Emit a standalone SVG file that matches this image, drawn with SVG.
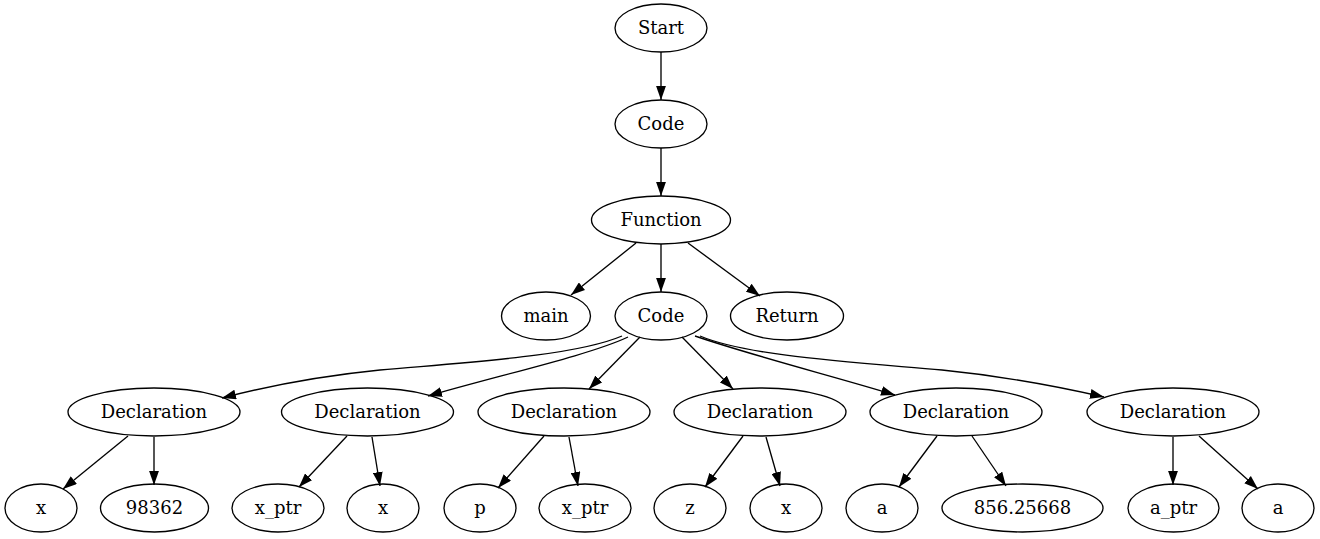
<svg xmlns="http://www.w3.org/2000/svg" width="1320" height="539" viewBox="0 0 1320 539">
<style>
.n ellipse{fill:none;stroke:#000;stroke-width:1.33}
.n text{font-family:"DejaVu Serif","Liberation Serif",serif;font-size:18px;text-anchor:middle;fill:#000}
.e path{fill:none;stroke:#000;stroke-width:1.33;marker-end:url(#ah)}
</style>
<defs>
<marker id="ah" markerUnits="userSpaceOnUse" markerWidth="14" markerHeight="10" refX="13.3" refY="4.67" orient="auto" viewBox="0 0 13.3 9.34">
<path d="M0,0 L13.3,4.67 L0,9.34 Z" fill="#000" stroke="none"/>
</marker>
</defs>
<rect width="1320" height="539" fill="#fff"/>
<g id="connectors" class="e">
<path d="M661,52 L661,100"/>
<path d="M661,148 L661,196"/>
<path d="M636,243 L571,295"/>
<path d="M661,244 L661,292"/>
<path d="M688,243 L760,296"/>
<path d="M622,336 C575,356 470,362 380,370 C320,376 268,386 222,398"/>
<path d="M628,337 C590,355 500,375 428,396"/>
<path d="M640,337 L589,389"/>
<path d="M682,337 L733,389"/>
<path d="M695,336 C750,355 840,378 895,395"/>
<path d="M700,336 C747,356 852,362 942,370 C1002,376 1056,386 1104,397"/>
<path d="M128,436 L63,489"/>
<path d="M154,437 L154,485"/>
<path d="M347,436 L299,487"/>
<path d="M372,437 L380,486"/>
<path d="M544,436 L498,488"/>
<path d="M569,437 L578,486"/>
<path d="M743,436 L705,487"/>
<path d="M766,437 L780,486"/>
<path d="M937,436 L899,487"/>
<path d="M972,436 L1006,486"/>
<path d="M1173,437 L1173,485"/>
<path d="M1199,436 L1258,489"/>
</g>
<g id="start" class="n"><ellipse cx="661" cy="28" rx="46" ry="24"/><text x="661" y="34">Start</text></g>
<g id="code1" class="n"><ellipse cx="661" cy="124" rx="46" ry="24"/><text x="661" y="130">Code</text></g>
<g id="function" class="n"><ellipse cx="661" cy="220" rx="69.5" ry="24"/><text x="661" y="226">Function</text></g>
<g id="main" class="n"><ellipse cx="546" cy="316" rx="44.5" ry="24"/><text x="546" y="322">main</text></g>
<g id="code2" class="n"><ellipse cx="661" cy="316" rx="46" ry="24"/><text x="661" y="322">Code</text></g>
<g id="return" class="n"><ellipse cx="787" cy="316" rx="56.5" ry="24"/><text x="787" y="322">Return</text></g>
<g id="decl1" class="n"><ellipse cx="154" cy="412" rx="86" ry="24"/><text x="154" y="418">Declaration</text></g>
<g id="decl2" class="n"><ellipse cx="367.5" cy="412" rx="86" ry="24"/><text x="367.5" y="418">Declaration</text></g>
<g id="decl3" class="n"><ellipse cx="564" cy="412" rx="86" ry="24"/><text x="564" y="418">Declaration</text></g>
<g id="decl4" class="n"><ellipse cx="760" cy="412" rx="86" ry="24"/><text x="760" y="418">Declaration</text></g>
<g id="decl5" class="n"><ellipse cx="956" cy="412" rx="86" ry="24"/><text x="956" y="418">Declaration</text></g>
<g id="decl6" class="n"><ellipse cx="1173" cy="412" rx="86" ry="24"/><text x="1173" y="418">Declaration</text></g>
<g id="leaf_x1" class="n"><ellipse cx="41" cy="508" rx="36" ry="24"/><text x="41" y="514">x</text></g>
<g id="leaf_98362" class="n"><ellipse cx="154.5" cy="508" rx="54" ry="24"/><text x="154.5" y="514">98362</text></g>
<g id="leaf_xptr1" class="n"><ellipse cx="278" cy="508" rx="46" ry="24"/><text x="278" y="514">x_ptr</text></g>
<g id="leaf_x2" class="n"><ellipse cx="383" cy="508" rx="36" ry="24"/><text x="383" y="514">x</text></g>
<g id="leaf_p" class="n"><ellipse cx="480" cy="508" rx="36" ry="24"/><text x="480" y="514">p</text></g>
<g id="leaf_xptr2" class="n"><ellipse cx="585" cy="508" rx="46" ry="24"/><text x="585" y="514">x_ptr</text></g>
<g id="leaf_z" class="n"><ellipse cx="690" cy="508" rx="36" ry="24"/><text x="690" y="514">z</text></g>
<g id="leaf_x3" class="n"><ellipse cx="786" cy="508" rx="36" ry="24"/><text x="786" y="514">x</text></g>
<g id="leaf_a1" class="n"><ellipse cx="882" cy="508" rx="36" ry="24"/><text x="882" y="514">a</text></g>
<g id="leaf_856" class="n"><ellipse cx="1022.5" cy="508" rx="80.5" ry="24"/><text x="1022.5" y="514">856.25668</text></g>
<g id="leaf_aptr" class="n"><ellipse cx="1173.5" cy="508" rx="45.5" ry="24"/><text x="1173.5" y="514">a_ptr</text></g>
<g id="leaf_a2" class="n"><ellipse cx="1278" cy="508" rx="36" ry="24"/><text x="1278" y="514">a</text></g>
</svg>
